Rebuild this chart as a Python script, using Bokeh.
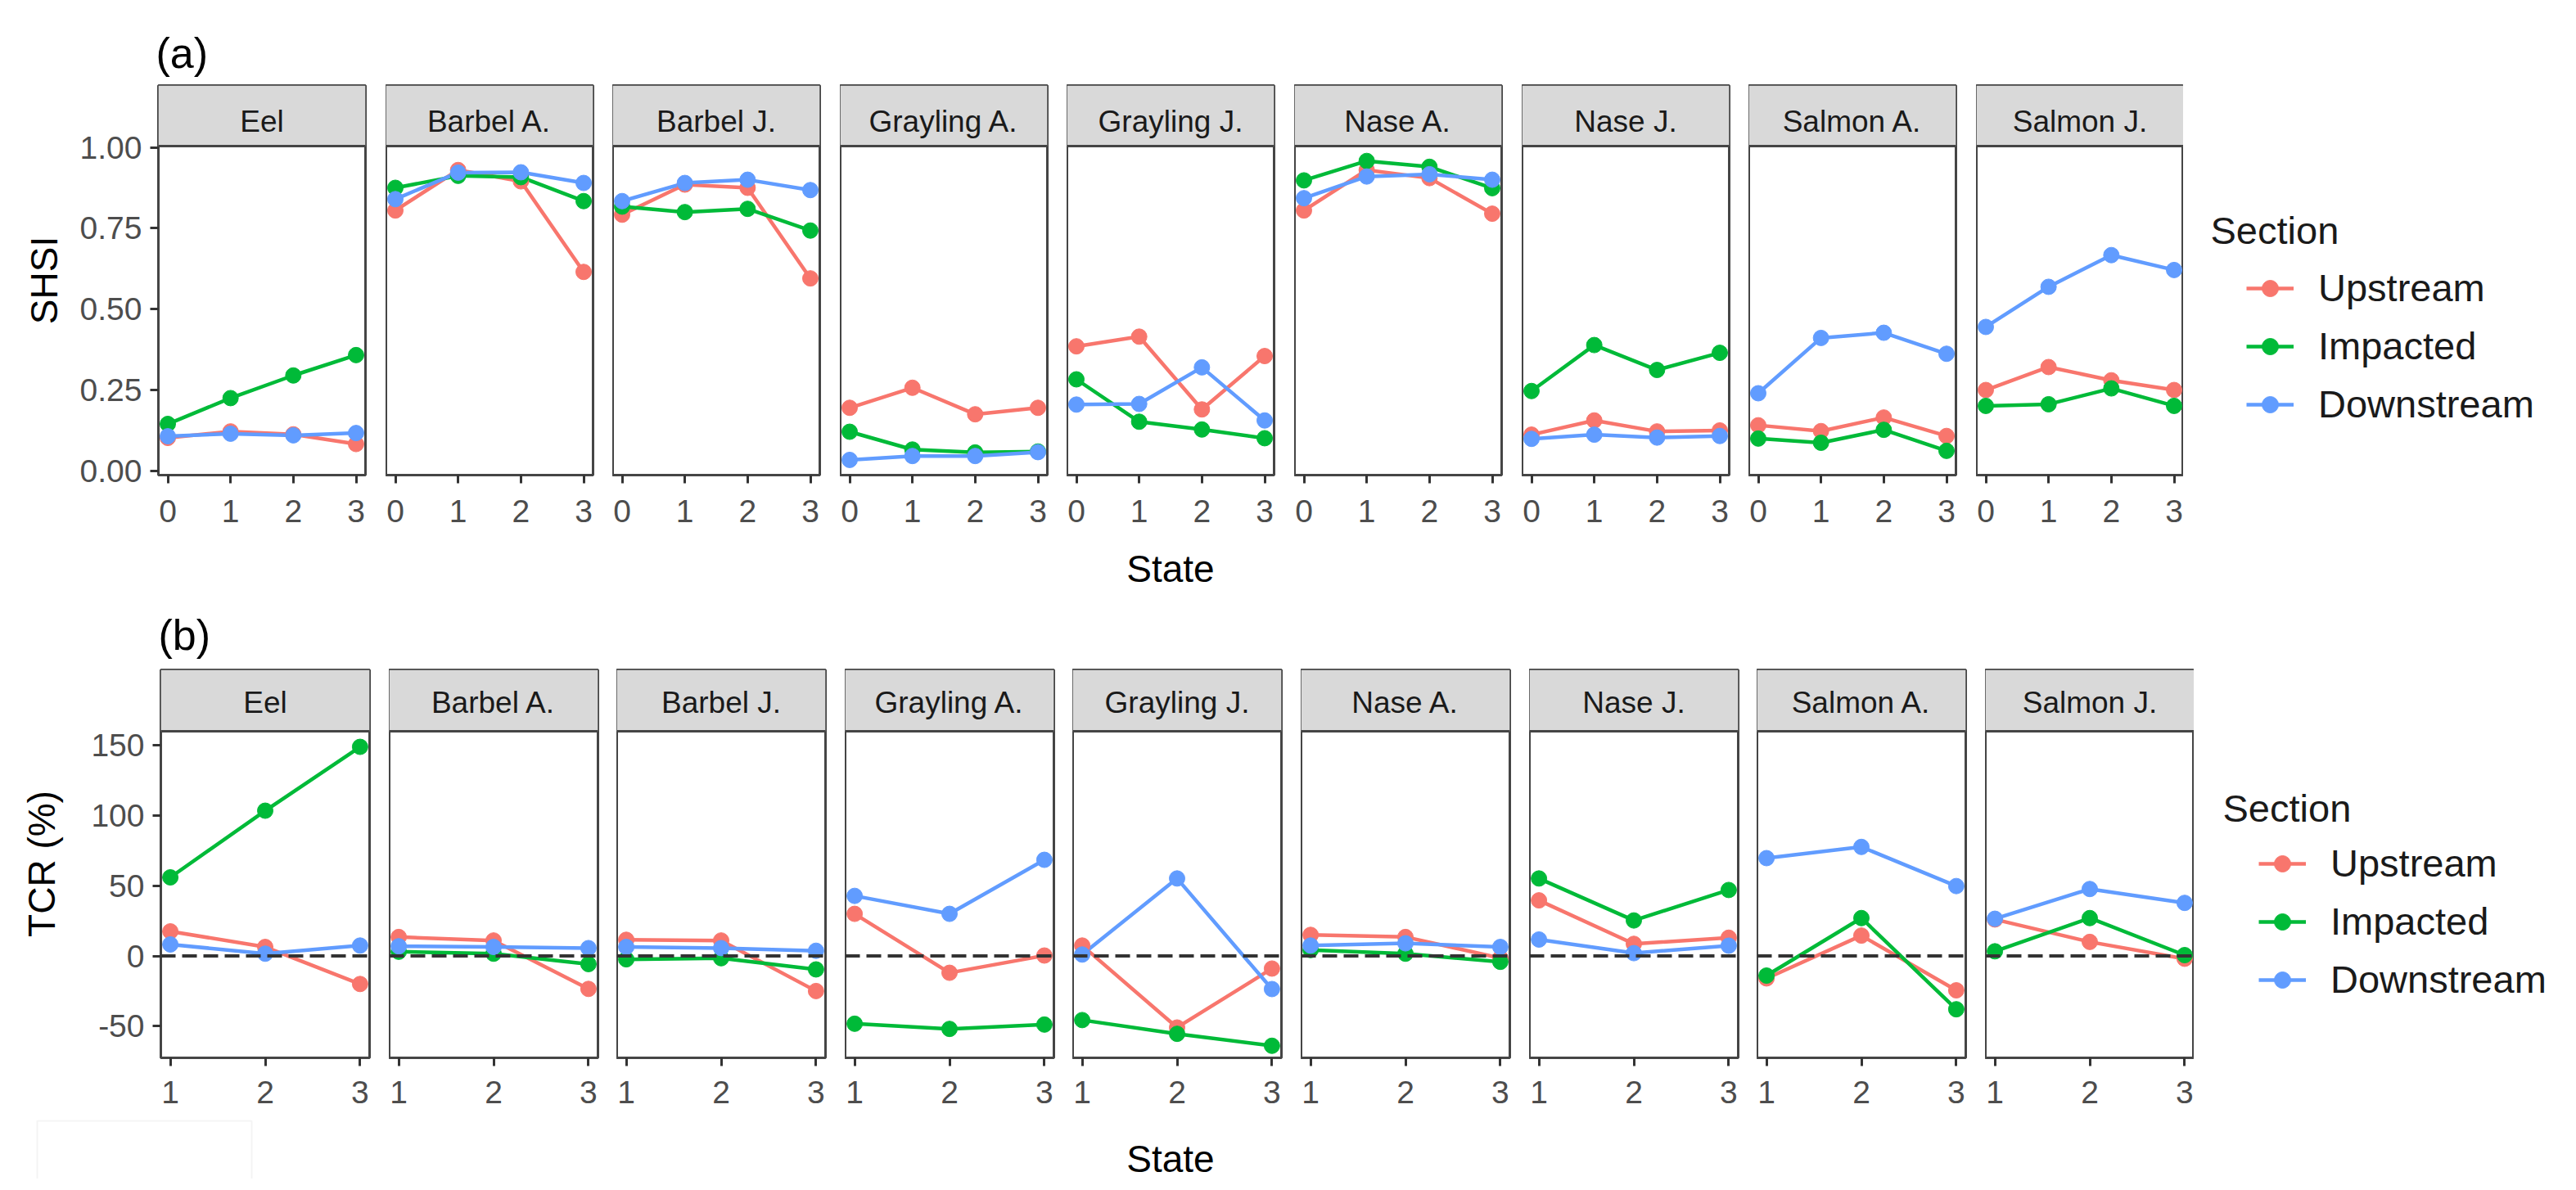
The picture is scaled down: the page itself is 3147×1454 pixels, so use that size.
import math
from bokeh.plotting import figure
from bokeh.models import (Range1d, FixedTicker, Span, BoxAnnotation, Label, Legend,
                          LegendItem, NumeralTickFormatter)
from bokeh.layouts import row, column
from bokeh.embed import file_html
from bokeh.resources import INLINE

# ---------------- data ----------------
species = ["Eel", "Barbel A.", "Barbel J.", "Grayling A.", "Grayling J.",
           "Nase A.", "Nase J.", "Salmon A.", "Salmon J."]
sections = ["Upstream", "Impacted", "Downstream"]
colors = ["#F8766D", "#00BA38", "#619CFF"]

states_a = [0, 1, 2, 3]
states_b = [1, 2, 3]

# (a) SHSI per species, states 0..3
shsi_upstream = [
    [0.102, 0.122, 0.113, 0.083],
    [0.805, 0.930, 0.895, 0.615],
    [0.792, 0.885, 0.875, 0.595],
    [0.195, 0.257, 0.175, 0.195],
    [0.385, 0.415, 0.190, 0.355],
    [0.805, 0.930, 0.905, 0.795],
    [0.112, 0.156, 0.122, 0.125],
    [0.141, 0.123, 0.165, 0.108],
    [0.250, 0.321, 0.280, 0.250],
]
shsi_impacted = [
    [0.145, 0.225, 0.295, 0.358],
    [0.875, 0.912, 0.908, 0.834],
    [0.817, 0.800, 0.810, 0.743],
    [0.121, 0.066, 0.057, 0.060],
    [0.283, 0.152, 0.128, 0.101],
    [0.898, 0.958, 0.940, 0.874],
    [0.247, 0.389, 0.312, 0.365],
    [0.100, 0.087, 0.127, 0.062],
    [0.201, 0.206, 0.255, 0.201],
]
shsi_downstream = [
    [0.107, 0.115, 0.110, 0.117],
    [0.840, 0.922, 0.923, 0.890],
    [0.834, 0.890, 0.900, 0.868],
    [0.034, 0.046, 0.046, 0.058],
    [0.205, 0.207, 0.320, 0.156],
    [0.843, 0.910, 0.917, 0.900],
    [0.099, 0.112, 0.103, 0.108],
    [0.240, 0.411, 0.427, 0.362],
    [0.445, 0.569, 0.667, 0.621],
]

# (b) TCR (%) per species, states 1..3
tcr_upstream = [
    [17.5, 6.4, -20.0],
    [13.5, 11.0, -23.5],
    [11.5, 11.0, -25.0],
    [30.0, -12.0, 0.3],
    [7.4, -51.0, -9.0],
    [15.0, 13.5, -1.5],
    [39.6, 8.6, 13.0],
    [-16.0, 14.5, -24.5],
    [26.0, 10.0, -2.0],
]
tcr_impacted = [
    [56.0, 103.5, 149.0],
    [3.0, 1.6, -5.8],
    [-2.4, -1.6, -9.6],
    [-48.3, -52.0, -48.9],
    [-45.7, -55.5, -64.0],
    [4.2, 1.6, -4.2],
    [55.2, 25.3, 47.0],
    [-14.0, 27.0, -38.0],
    [3.3, 27.0, 0.6],
]
tcr_downstream = [
    [8.2, 1.6, 7.4],
    [6.9, 6.4, 5.6],
    [6.4, 5.6, 3.7],
    [42.8, 30.0, 68.5],
    [1.0, 55.2, -23.6],
    [7.4, 9.0, 6.4],
    [11.7, 2.0, 7.3],
    [69.7, 77.7, 49.8],
    [26.5, 47.7, 37.8],
]

yticks_a = [0, 0.25, 0.5, 0.75, 1.0]
yticks_b = [-50, 0, 50, 100, 150]

# ---------------- style ----------------
FONT = "Liberation Sans"
TICK_FS = "39px"
STRIP_FS = "37px"
TITLE_FS = "46px"
LEG_FS = "47px"
TAG_FS = "52px"
BORDER = "#454545"
STRIP_FILL = "#D9D9D9"
LW = 4.5
PSIZE = 19


def build_row(cfg):
    figs = []
    lefts = cfg["lefts"]
    W = cfg["W"]
    hdr = cfg["hdr"]
    pnl = cfg["pnl"]
    y0, y1 = cfg["ylim"]
    upp = (y1 - y0) / pnl
    y_top = y1
    y_end = y1 + hdr * upp
    for i, sp in enumerate(species):
        first = i == 0
        gap = (lefts[i + 1] - lefts[i] - W) if i < len(species) - 1 else 0
        p = figure(frame_width=W, frame_height=hdr + pnl,
                   x_range=Range1d(*cfg["xlim"]), y_range=Range1d(y0, y_end),
                   y_axis_location="left" if first else None,
                   min_border_left=(lefts[0] - 8) if first else 0,
                   min_border_right=gap,
                   min_border_top=cfg["mbt"], min_border_bottom=cfg["mbb"],
                   toolbar_location=None, output_backend="svg",
                   title=cfg["tag"] if first else None)
        p.grid.visible = False
        p.outline_line_color = BORDER
        p.outline_line_width = 3
        p.background_fill_color = "white"
        p.border_fill_color = "white"
        if first:
            p.title.text_font = FONT
            p.title.text_font_size = TAG_FS
            p.title.text_font_style = "normal"
            p.title.text_color = "black"
            p.title.align = "left"
            p.title.offset = -3
            p.title.standoff = cfg["tag_standoff"]

        # strip header
        p.add_layout(BoxAnnotation(bottom=y_top, fill_color=STRIP_FILL, fill_alpha=1.0,
                                   line_color=None, level="underlay"))
        p.add_layout(Span(location=y_top, dimension="width", line_color=BORDER,
                          line_width=3))
        xc = (cfg["xlim"][0] + cfg["xlim"][1]) / 2
        p.add_layout(Label(x=xc, y=y_top + cfg["strip_txt_px"] * upp, text=sp,
                           text_align="center", text_baseline="middle",
                           text_font=FONT, text_font_size=STRIP_FS,
                           text_color="#1A1A1A"))

        xs = cfg["xs"]
        series = cfg["series"]
        for s, c in zip(series, colors):
            p.line(xs, s[i], line_color=c, line_width=LW)
        for s, c in zip(series, colors):
            p.scatter(xs, s[i], size=PSIZE, fill_color=c, line_color=c)

        if cfg["zero"]:
            p.add_layout(Span(location=0, dimension="width", line_color="#333333",
                              line_width=4, line_dash="18 8"))

        ax = p.xaxis[0]
        ax.ticker = FixedTicker(ticks=xs, minor_ticks=[])
        ax.axis_line_color = None
        ax.major_tick_in = 0
        ax.major_tick_out = 10
        ax.major_tick_line_color = "#333333"
        ax.major_tick_line_width = 3
        ax.minor_tick_line_color = None
        ax.major_label_text_font = FONT
        ax.major_label_text_font_size = TICK_FS
        ax.major_label_text_color = "#4D4D4D"
        ax.major_label_standoff = cfg["xstand"]
        if cfg["xtitle_idx"] == i:
            ax.axis_label = "State"
            ax.axis_label_text_font = FONT
            ax.axis_label_text_font_size = TITLE_FS
            ax.axis_label_text_font_style = "normal"
            ax.axis_label_text_color = "black"
            ax.axis_label_standoff = cfg["xtitle_standoff"]

        if first:
            ay = p.yaxis[0]
            ay.ticker = FixedTicker(ticks=cfg["yticks"], minor_ticks=[])
            if cfg["yfmt"]:
                ay.formatter = NumeralTickFormatter(format=cfg["yfmt"])
            else:
                ay.major_label_overrides = {t: str(t) for t in cfg["yticks"]}
            ay.axis_line_color = None
            ay.major_tick_in = 0
            ay.major_tick_out = 10
            ay.major_tick_line_color = "#333333"
            ay.major_tick_line_width = 3
            ay.minor_tick_line_color = None
            ay.major_label_text_font = FONT
            ay.major_label_text_font_size = TICK_FS
            ay.major_label_text_color = "#4D4D4D"
            ay.major_label_standoff = 10
            ay.axis_label = cfg["ytitle"]
            ay.axis_label_text_font = FONT
            ay.axis_label_text_font_size = TITLE_FS
            ay.axis_label_text_font_style = "normal"
            ay.axis_label_text_color = "black"
            ay.axis_label_standoff = cfg["ytitle_standoff"]
        figs.append(p)

    # legend figure
    LW_FIG = 3139 - (lefts[-1] + W)
    FH = hdr + pnl
    lp = figure(frame_width=LW_FIG, frame_height=FH,
                x_range=Range1d(0, LW_FIG), y_range=Range1d(0, FH),
                x_axis_location=None, y_axis_location=None,
                min_border_left=0, min_border_right=0,
                min_border_top=cfg["mbt"], min_border_bottom=cfg["mbb"],
                toolbar_location=None, output_backend="svg")
    lp.outline_line_color = None
    lp.grid.visible = False
    items = []
    for name, c in zip(sections, colors):
        lr = lp.line(x=[math.nan], y=[math.nan], line_color=c, line_width=LW)
        sr = lp.scatter(x=[math.nan], y=[math.nan], size=PSIZE, fill_color=c, line_color=c)
        items.append(LegendItem(label=name, renderers=[lr, sr]))
    lg = Legend(items=items, location=cfg["leg_loc"], border_line_color=None,
                background_fill_alpha=0, padding=0, margin=0, spacing=16,
                label_standoff=30, glyph_width=58, glyph_height=50, label_height=50,
                label_text_font=FONT, label_text_font_size=LEG_FS,
                label_text_color="#1A1A1A")
    lp.add_layout(lg)
    lp.add_layout(Label(x=cfg["sec_xy"][0], y=cfg["sec_xy"][1], text="Section",
                        text_baseline="middle", text_font=FONT,
                        text_font_size=LEG_FS, text_color="#1A1A1A"))
    figs.append(lp)
    return row(*figs, spacing=0)


cfg_a = dict(
    lefts=[201, 479, 756, 1034, 1311, 1589, 1867, 2144, 2422], W=253,
    hdr=74, pnl=402, ylim=(-0.013, 1.004), xlim=(-0.15, 3.15),
    mbt=104, mbb=150, xs=states_a,
    series=[shsi_upstream, shsi_impacted, shsi_downstream],
    zero=False, yticks=yticks_a, yfmt="0.00", ytitle="SHSI", ytitle_standoff=15,
    xstand=20, xtitle_idx=4, xtitle_standoff=28, tag="(a)", tag_standoff=22,
    strip_txt_px=30, leg_loc=(77, 59), sec_xy=(33, 299),
)
cfg_b = dict(
    lefts=[204, 483, 761, 1040, 1318, 1597, 1876, 2154, 2433], W=255,
    hdr=75, pnl=399, ylim=(-72.6, 160.1), xlim=(0.9, 3.1),
    mbt=85, mbb=76, xs=states_b,
    series=[tcr_upstream, tcr_impacted, tcr_downstream],
    zero=True, yticks=yticks_b, yfmt=None, ytitle="TCR (%)", ytitle_standoff=31,
    xstand=18, xtitle_idx=-1, xtitle_standoff=0, tag="(b)", tag_standoff=28,
    strip_txt_px=35, leg_loc=(79, 68), sec_xy=(35, 305),
)

row_a = build_row(cfg_a)
row_b = build_row(cfg_b)

# bottom strip: shared x-axis title and the faint box in the lower-left corner
BW, BH = 3131, 72
bp = figure(frame_width=BW, frame_height=BH, x_range=Range1d(0, BW), y_range=Range1d(0, BH),
            x_axis_location=None, y_axis_location=None, min_border=0,
            toolbar_location=None, output_backend="svg")
bp.outline_line_color = None
bp.grid.visible = False
bp.add_layout(BoxAnnotation(left=45, right=307, bottom=-10, top=71, fill_color="white",
                            fill_alpha=1.0, line_color="#DCDCDC", line_width=2))
bp.add_layout(Label(x=1437.5 - 8, y=25, text="State", text_align="center",
                    text_baseline="middle", text_font=FONT, text_font_size=TITLE_FS,
                    text_color="black"))

layout = column(row_a, row_b, bp, spacing=0)
open("out.html", "w").write(file_html(layout, INLINE))
